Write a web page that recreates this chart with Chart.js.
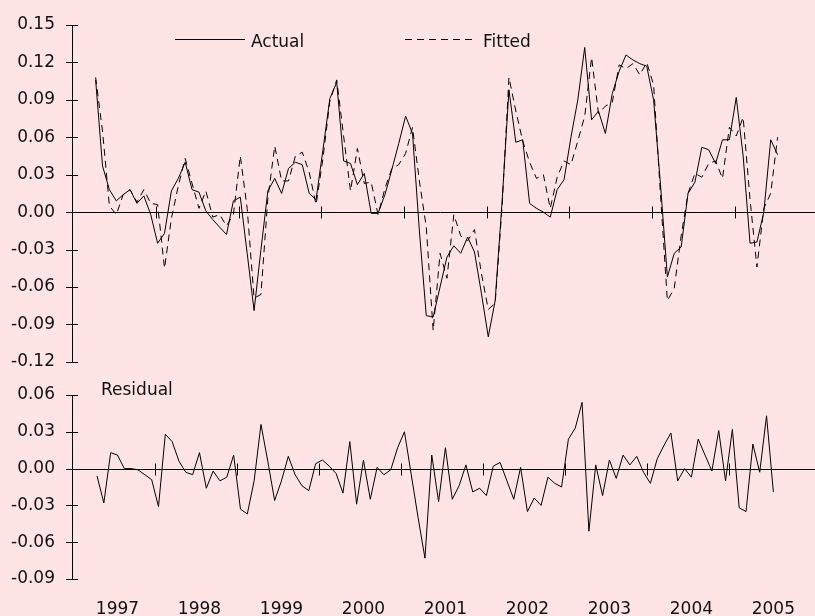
<!DOCTYPE html>
<html>
<head>
<meta charset="utf-8">
<script src="https://cdn.jsdelivr.net/npm/chart.js@4.4.1/dist/chart.umd.min.js"></script>
<style>
  html, body { margin:0; padding:0; background:#FFE4E6; }
  #wrap { position:relative; width:815px; height:616px; background:#FFE4E6; }
  #top { position:absolute; left:0; top:0; }
  #bot { position:absolute; left:0; top:372px; }
</style>
</head>
<body>
<div id="wrap">
  <canvas id="top" width="815" height="372"></canvas>
  <canvas id="bot" width="815" height="244"></canvas>
</div>
<script>
// monthly data, 1997M04 .. 2005M07
const years = ['1997','1998','1999','2000','2001','2002','2003','2004','2005'];
const firstMonth = 4;

const actual = [
  0.106, 0.037, 0.018, 0.009, 0.014, 0.018, 0.007, 0.013, -0.002, -0.025,
  -0.017, 0.017, 0.027, 0.040, 0.018, 0.016, 0.001, -0.006, -0.012, -0.018,
  0.009, 0.012, -0.033, -0.079, -0.030, 0.017, 0.027, 0.015, 0.035, 0.040,
  0.038, 0.015, 0.010, 0.050, 0.091, 0.104, 0.041, 0.039, 0.022, 0.031,
  -0.001, -0.001, 0.014, 0.034, 0.055, 0.077, 0.063, -0.015, -0.083, -0.084,
  -0.060, -0.036, -0.027, -0.033, -0.020, -0.032, -0.065, -0.100, -0.071, 0.008,
  0.098, 0.056, 0.058, 0.007, 0.003, 0.000, -0.004, 0.018, 0.026, 0.060,
  0.090, 0.132, 0.074, 0.081, 0.063, 0.095, 0.113, 0.126, 0.122, 0.119,
  0.117, 0.090, 0.022, -0.052, -0.033, -0.028, 0.015, 0.024, 0.052, 0.050,
  0.039, 0.058, 0.058, 0.092, 0.045, -0.025, -0.024, 0.000, 0.058, 0.046
];
const fitted = [
  0.108, 0.065, 0.005, -0.002, 0.014, 0.018, 0.008, 0.018, 0.007, 0.006,
  -0.045, -0.005, 0.021, 0.043, 0.023, 0.003, 0.017, -0.004, -0.002, -0.011,
  -0.002, 0.045, 0.003, -0.069, -0.066, 0.011, 0.053, 0.025, 0.025, 0.045,
  0.048, 0.032, 0.006, 0.043, 0.089, 0.106, 0.061, 0.017, 0.051, 0.023,
  0.024, -0.002, 0.019, 0.035, 0.038, 0.047, 0.068, 0.025, -0.012, -0.095,
  -0.033, -0.053, -0.002, -0.019, -0.023, -0.014, -0.049, -0.078, -0.073, 0.004,
  0.108, 0.081, 0.057, 0.040, 0.027, 0.030, 0.003, 0.028, 0.041, 0.038,
  0.057, 0.077, 0.124, 0.079, 0.085, 0.088, 0.118, 0.115, 0.119, 0.110,
  0.120, 0.102, 0.014, -0.071, -0.061, -0.019, 0.015, 0.031, 0.028, 0.039,
  0.041, 0.027, 0.068, 0.061, 0.076, 0.010, -0.044, 0.003, 0.015, 0.060
];
const residual = [
  -0.006, -0.028, 0.013, 0.011, 0.000, 0.000, -0.001, -0.005, -0.009, -0.031,
  0.028, 0.022, 0.006, -0.003, -0.005, 0.013, -0.016, -0.002, -0.010, -0.007,
  0.011, -0.033, -0.037, -0.010, 0.036, 0.006, -0.026, -0.010, 0.010, -0.005,
  -0.014, -0.018, 0.004, 0.007, 0.002, -0.004, -0.020, 0.022, -0.029, 0.007,
  -0.025, 0.001, -0.005, -0.001, 0.017, 0.030, -0.005, -0.040, -0.073, 0.011,
  -0.027, 0.017, -0.025, -0.014, 0.003, -0.019, -0.016, -0.022, 0.002, 0.005,
  -0.010, -0.025, 0.001, -0.035, -0.024, -0.030, -0.007, -0.012, -0.015, 0.024,
  0.033, 0.054, -0.051, 0.003, -0.022, 0.007, -0.008, 0.011, 0.003, 0.010,
  -0.003, -0.012, 0.008, 0.019, 0.029, -0.010, 0.000, -0.007, 0.024, 0.011,
  -0.002, 0.031, -0.010, 0.032, -0.032, -0.035, 0.020, -0.003, 0.043, -0.019
];

const FONT = 'DejaVu Sans';
Chart.defaults.font.family = FONT;
Chart.defaults.font.size = 17;
Chart.defaults.color = '#111';

const pts = arr => arr.map((v, i) => ({ x: i, y: v }));
// July of each year carries the label, year boundaries get a tick on the zero line
const julyIdx = years.map((y, k) => 12 * k + 7 - firstMonth);
const bounds = years.slice(1).map((y, k) => 12 * k + 12 - firstMonth + 0.5);
const fmt = v => Math.abs(v) < 1e-9 ? '0.00' : v.toFixed(2);

const deco = {
  id: 'deco',
  afterDraw(chart, args, o) {
    const { ctx, chartArea: a, scales: { x, y } } = chart;
    ctx.save();
    ctx.strokeStyle = '#000'; ctx.lineWidth = 1;
    ctx.beginPath();
    y.ticks.forEach(t => {
      const py = Math.round(y.getPixelForValue(t.value)) + 0.5;
      ctx.moveTo(a.left - 6, py); ctx.lineTo(a.left + 6, py);
    });
    const y0 = Math.round(y.getPixelForValue(0)) + 0.5;
    ctx.moveTo(a.left - 6, y0); ctx.lineTo(chart.width, y0);
    o.bounds.forEach(b => {
      const px = Math.round(x.getPixelForValue(b)) + 0.5;
      ctx.moveTo(px, y0 - 6); ctx.lineTo(px, y0 + 6);
    });
    ctx.stroke();

    ctx.font = '17px "' + FONT + '"';
    ctx.fillStyle = '#111';
    ctx.textBaseline = 'alphabetic';
    (o.legend || []).forEach(it => {
      const ds = chart.data.datasets[it.ds];
      ctx.setLineDash(ds.borderDash || []);
      ctx.beginPath();
      ctx.moveTo(it.x, it.y + 0.5); ctx.lineTo(it.x + 70, it.y + 0.5);
      ctx.stroke();
      ctx.setLineDash([]);
      ctx.fillText(ds.label, it.tx, it.y + 7.5);
    });
    if (o.title) ctx.fillText(o.title.text, o.title.x, o.title.y);
    ctx.restore();
  }
};

// gap between labels and axis comes from an invisible tick length,
// ticks.padding would also pad the chart area top and bottom
const yAxis = (min, max) => ({
  min, max,
  afterFit: s => { s.width = 72; },
  grid: { display: false, drawTicks: true, tickLength: 17, color: 'rgba(0,0,0,0)' },
  border: { display: true, color: '#000', width: 1 },
  ticks: { stepSize: 0.03, padding: 0, color: '#111', callback: fmt }
});

new Chart(document.getElementById('top'), {
  type: 'line',
  data: {
    datasets: [
      { label: 'Actual', data: pts(actual), borderColor: '#000', borderWidth: 1, pointRadius: 0, tension: 0, fill: false },
      { label: 'Fitted', data: pts(fitted), borderColor: '#000', borderWidth: 1, borderDash: [7, 5], pointRadius: 0, tension: 0, fill: false }
    ]
  },
  options: {
    responsive: false, animation: false, events: [], devicePixelRatio: 1,
    layout: { padding: { top: 25, bottom: 10, left: 0, right: 0 } },
    plugins: {
      legend: { display: false }, tooltip: { enabled: false },
      deco: {
        bounds: bounds.map(b => b + 0.25),
        legend: [ { ds: 0, x: 175, tx: 251, y: 39 }, { ds: 1, x: 405, tx: 483, y: 39 } ]
      }
    },
    scales: {
      x: { type: 'linear', min: -3.43, max: 104.43, display: false, afterFit: s => { s.height = 0; } },
      y: yAxis(-0.12, 0.15)
    }
  },
  plugins: [deco]
});

new Chart(document.getElementById('bot'), {
  type: 'line',
  data: {
    datasets: [
      { label: 'Residual', data: pts(residual), borderColor: '#000', borderWidth: 1, pointRadius: 0, tension: 0, fill: false }
    ]
  },
  options: {
    responsive: false, animation: false, events: [], devicePixelRatio: 1,
    layout: { padding: { top: 23, bottom: 0, left: 0, right: 0 } },
    plugins: {
      legend: { display: false }, tooltip: { enabled: false },
      deco: { bounds, title: { text: 'Residual', x: 101, y: 22.5 } }
    },
    scales: {
      x: {
        type: 'linear', min: -3.66, max: 103.69,
        afterFit: s => { s.height = 37; },
        afterBuildTicks: s => { s.ticks = julyIdx.map(v => ({ value: v })); },
        grid: { display: false, drawTicks: false },
        border: { display: false },
        ticks: { autoSkip: false, maxRotation: 0, padding: 20, color: '#111',
                 callback: (v, i) => years[i] }
      },
      y: yAxis(-0.09, 0.06)
    }
  },
  plugins: [deco]
});
</script>
</body>
</html>
